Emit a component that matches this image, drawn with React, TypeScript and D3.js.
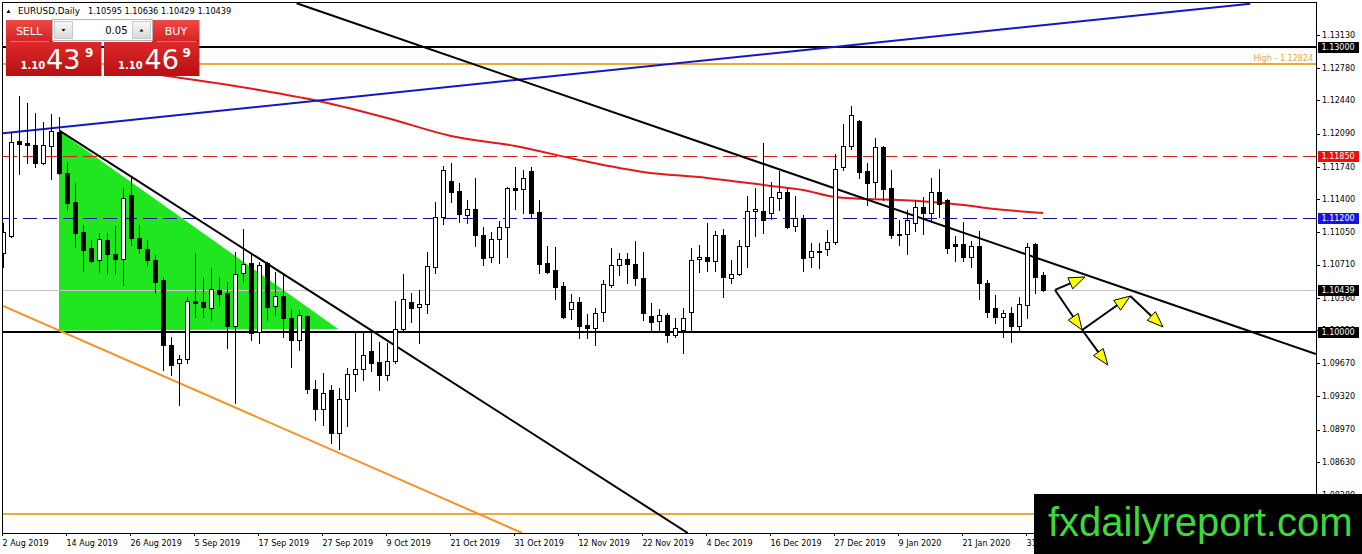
import React from 'react';
import * as d3 from 'd3';

const W = 1362;
const H = 554;

// plot frame (MT4 style chart window)
const plot = { left: 3, top: 2.7, right: 1316, bottom: 533 };

// daily OHLC, 2 Aug 2019 .. 4 Feb 2020
const barOpen = [
  1.10832, 1.11011, 1.12013, 1.11992, 1.1197, 1.11781, 1.1196, 1.12108, 1.11675, 1.1137,
  1.11053, 1.10885, 1.10758, 1.10969, 1.10822, 1.10769, 1.11444, 1.1099, 1.10874, 1.10758,
  1.10547, 1.09862, 1.09672, 1.09714, 1.10326, 1.10315, 1.10252, 1.10442, 1.1041, 1.10062,
  1.10621, 1.10726, 1.09999, 1.10726, 1.10273, 1.10378, 1.10147, 1.09914, 1.10168, 1.09398,
  1.09187, 1.09387, 1.08934, 1.09292, 1.09556, 1.09609, 1.09799, 1.09683, 1.09546, 1.09693,
  1.10031, 1.10315, 1.10263, 1.10294, 1.10684, 1.11211, 1.11591, 1.11485, 1.11232, 1.11296,
  1.11021, 1.1079, 1.10979, 1.11106, 1.11517, 1.11507, 1.11696, 1.11264, 1.10726, 1.10653,
  1.10484, 1.10241, 1.10315, 1.10073, 1.10041, 1.1021, 1.10495, 1.10705, 1.10769, 1.10716,
  1.10568, 1.10168, 1.10115, 1.10178, 1.09967, 1.1002, 1.1021, 1.10769, 1.1079, 1.10747,
  1.11021, 1.10568, 1.1061, 1.10906, 1.11275, 1.11275, 1.11253, 1.11412, 1.11475, 1.11116,
  1.11201, 1.1079, 1.10853, 1.10874, 1.10948, 1.11739, 1.1196, 1.12223, 1.11696, 1.11581,
  1.11949, 1.11517, 1.11032, 1.11032, 1.11148, 1.11317, 1.11253, 1.11475, 1.11391, 1.10927,
  1.10927, 1.1079, 1.10906, 1.10516, 1.10252, 1.10157, 1.10199, 1.10062, 1.10284, 1.10927,
  1.10595,
];
const barHigh = [
  1.11148, 1.12108, 1.12487, 1.12413, 1.12308, 1.12213, 1.12297, 1.12266, 1.11791, 1.1157,
  1.11127, 1.10969, 1.11042, 1.11042, 1.11116, 1.11517, 1.11623, 1.11127, 1.10969, 1.10811,
  1.10568, 1.09946, 1.09756, 1.10368, 1.10832, 1.10568, 1.10674, 1.10579, 1.10526, 1.10842,
  1.11085, 1.10832, 1.10737, 1.10737, 1.10632, 1.106, 1.10241, 1.10231, 1.10178, 1.09493,
  1.09567, 1.0944, 1.09409, 1.09619, 1.09988, 1.09988, 1.09988, 1.09893, 1.09883, 1.10326,
  1.1061, 1.1041, 1.10442, 1.10842, 1.1137, 1.11749, 1.11781, 1.1157, 1.11391, 1.11623,
  1.11106, 1.11053, 1.11169, 1.11528, 1.11739, 1.11707, 1.11739, 1.11391, 1.10906, 1.10895,
  1.10526, 1.104, 1.10368, 1.10189, 1.10252, 1.10547, 1.10885, 1.10832, 1.10832, 1.10958,
  1.10842, 1.10305, 1.10241, 1.10199, 1.10147, 1.10252, 1.10885, 1.10916, 1.11148, 1.11064,
  1.11085, 1.10758, 1.10969, 1.11433, 1.11517, 1.11992, 1.11581, 1.11696, 1.11517, 1.11433,
  1.11232, 1.10937, 1.10937, 1.11074, 1.11876, 1.12192, 1.12382, 1.12234, 1.11781, 1.12044,
  1.1196, 1.11707, 1.1118, 1.11285, 1.11391, 1.11422, 1.11623, 1.11717, 1.11401, 1.11011,
  1.11159, 1.10958, 1.11064, 1.10547, 1.10389, 1.10231, 1.10263, 1.10368, 1.10937, 1.10937,
  1.10636,
];
const barLow = [
  1.10684, 1.11, 1.11665, 1.11781, 1.11739, 1.1177, 1.11612, 1.11665, 1.11285, 1.10895,
  1.10642, 1.10737, 1.10632, 1.10621, 1.10621, 1.10495, 1.10916, 1.10832, 1.10705, 1.1041,
  1.09598, 1.09546, 1.09229, 1.09672, 1.10157, 1.10157, 1.10125, 1.10284, 1.0983, 1.0925,
  1.10526, 1.09914, 1.09883, 1.10125, 1.10178, 1.09946, 1.0963, 1.09809, 1.09356, 1.09071,
  1.09018, 1.08829, 1.08766, 1.09008, 1.09377, 1.09493, 1.09588, 1.09387, 1.09493, 1.09672,
  1.09999, 1.10104, 1.09883, 1.10199, 1.10621, 1.11138, 1.1137, 1.11159, 1.11148, 1.10906,
  1.10705, 1.10737, 1.10726, 1.1079, 1.11296, 1.11254, 1.11211, 1.10621, 1.10621, 1.10347,
  1.10147, 1.10136, 1.09935, 1.09935, 1.09862, 1.10115, 1.10473, 1.106, 1.10516, 1.10495,
  1.10125, 1.10009, 1.1002, 1.09893, 1.09946, 1.09777, 1.09999, 1.10632, 1.10642, 1.10642,
  1.10368, 1.10516, 1.106, 1.10684, 1.11011, 1.11042, 1.1119, 1.11285, 1.11095, 1.11064,
  1.10642, 1.10684, 1.10674, 1.10811, 1.10927, 1.11707, 1.11928, 1.11623, 1.11338, 1.11422,
  1.11391, 1.1099, 1.10916, 1.10822, 1.11064, 1.11032, 1.11159, 1.11211, 1.10832, 1.10747,
  1.10747, 1.10684, 1.10347, 1.10157, 1.10094, 1.09946, 1.09893, 1.1002, 1.10147, 1.1041,
  1.10429,
];
const barClose = [
  1.11053, 1.12002, 1.11981, 1.1197, 1.11781, 1.1197, 1.12118, 1.11675, 1.11359, 1.11042,
  1.10864, 1.10747, 1.10979, 1.10822, 1.10769, 1.11412, 1.1099, 1.10885, 1.10758, 1.10526,
  1.09862, 1.09651, 1.09714, 1.10326, 1.10305, 1.10263, 1.10452, 1.104, 1.10062, 1.1061,
  1.10716, 1.09988, 1.10705, 1.10263, 1.10378, 1.10147, 1.09914, 1.10178, 1.09398, 1.09187,
  1.09356, 1.08934, 1.09292, 1.09556, 1.09609, 1.09756, 1.09672, 1.09546, 1.09693, 1.10031,
  1.10347, 1.10252, 1.10294, 1.10695, 1.11211, 1.11707, 1.11475, 1.11243, 1.11296, 1.11021,
  1.10779, 1.10979, 1.11106, 1.11517, 1.11496, 1.11623, 1.11254, 1.10716, 1.10632, 1.10473,
  1.10157, 1.10315, 1.10062, 1.10041, 1.10199, 1.10505, 1.10705, 1.10769, 1.10716, 1.10568,
  1.10199, 1.10104, 1.10178, 1.09967, 1.10041, 1.10147, 1.10758, 1.1079, 1.10747, 1.11021,
  1.10579, 1.1061, 1.10906, 1.11275, 1.11296, 1.1118, 1.11422, 1.11475, 1.11106, 1.11201,
  1.10779, 1.10853, 1.10842, 1.10948, 1.11717, 1.1196, 1.12287, 1.11686, 1.1157, 1.11949,
  1.11507, 1.11021, 1.11021, 1.1118, 1.11317, 1.11253, 1.11475, 1.11349, 1.10885, 1.10906,
  1.1079, 1.10906, 1.10516, 1.1021, 1.10157, 1.10199, 1.10062, 1.10294, 1.10895, 1.10579,
  1.10439,
];

// time axis: one label every 8 bars
const dateLabels = [
  '2 Aug 2019', '14 Aug 2019', '26 Aug 2019', '5 Sep 2019', '17 Sep 2019', '27 Sep 2019',
  '9 Oct 2019', '21 Oct 2019', '31 Oct 2019', '12 Nov 2019', '22 Nov 2019', '4 Dec 2019',
  '16 Dec 2019', '27 Dec 2019', '9 Jan 2020', '21 Jan 2020', '31 Jan 2020',
];
const priceTicks = [
  1.1313, 1.1278, 1.1244, 1.1209, 1.1174, 1.114, 1.1105, 1.1071, 1.1036, 1.1002,
  1.0967, 1.0932, 1.0897, 1.0863, 1.0828,
];

// moving average (red)
const maBars = [18, 24, 32, 40, 48, 56, 64, 72, 80, 88, 96, 100, 104, 108, 112, 116, 120, 124, 130];
const maValues = [
  1.12729, 1.12656, 1.1255, 1.12424, 1.12255, 1.12065, 1.1196, 1.11812, 1.11686, 1.11623,
  1.11538, 1.11496, 1.11422, 1.11401, 1.11391, 1.1137, 1.11338, 1.11296, 1.11253,
];

// horizontal levels
const level13000 = 1.13;
const periodHigh = 1.12824;
const level11850 = 1.1185;
const level11200 = 1.112;
const level10000 = 1.1;
const lowLevel = 1.08084;

// drawn objects, [bar, price]
const blueTrend = [[0, 1.12093], [155.9, 1.1346]];
const mainDownTrend = [[36.7, 1.13464], [164.1, 1.09767]];
const wedgeTrend = [[7.1, 1.12118], [85.6, 1.0788]];
const orangeTrend = [[0, 1.10273], [64.9, 1.0788]];
const greenTriangle = [[7, 1.12118], [7, 1.10012], [41.9, 1.10031]];

const arrowPts: Record<string, number[]> = {
  a: [131.5, 1.10442],
  b: [135.25, 1.10579],
  c: [134.9, 1.1002],
  d: [140.9, 1.10378],
  e: [145, 1.10052],
  f: [138.1, 1.09651],
};
const arrowSegments = [['a', 'b'], ['a', 'c'], ['c', 'd'], ['d', 'e'], ['c', 'f']];

const font = '"DejaVu Sans", Tahoma, sans-serif';

const x = d3.scaleLinear().domain([0, 130]).range([3, 1043]);
const y = d3.scaleLinear().domain([1.0788, 1.1347]).range([plot.bottom, plot.top]);

const toPx = (p: number[]) => [x(p[0]), y(p[1])] as [number, number];
// pixel snapping for thin / thick horizontal lines
const crisp1 = (p: number) => Math.round(y(p)) + 0.5;
const crisp2 = (p: number) => Math.round(y(p));

function Arrow({ from, to }: { from: number[]; to: number[] }) {
  const [x1, y1] = toPx(from);
  const [x2, y2] = toPx(to);
  const len = Math.hypot(x2 - x1, y2 - y1);
  const ux = (x2 - x1) / len, uy = (y2 - y1) / len;
  const hl = 16, hw = 6;
  const bx = x2 - ux * hl, by = y2 - uy * hl;
  const pts = [
    [x2, y2],
    [bx - uy * hw, by + ux * hw],
    [bx + uy * hw, by - ux * hw],
  ];
  return (
    <g>
      <line x1={x1} y1={y1} x2={bx} y2={by} stroke="#000" strokeWidth={2} />
      <polygon points={pts.map(p => p.join(',')).join(' ')} fill="#ffff00" stroke="#000" strokeWidth={1} />
    </g>
  );
}

function PriceBox({ price, color, text }: { price: number; color: string; text: string }) {
  const yy = Math.round(y(price));
  return (
    <g>
      <rect x={1318} y={yy - 5} width={41} height={11} fill={color} />
      <text x={1321.5} y={yy + 0.5} dy="0.35em" fontSize={8} fill="#fff" fontFamily={font}>{text}</text>
    </g>
  );
}

function TradePanel() {
  const last = barClose.length - 1;
  return (
    <g fontFamily={font}>
      <defs>
        <linearGradient id="btnRed" x1="0" y1="0" x2="0" y2="1">
          <stop offset="0%" stopColor="#ec4a48" />
          <stop offset="100%" stopColor="#d42222" />
        </linearGradient>
        <linearGradient id="priceRed" x1="0" y1="0" x2="0" y2="1">
          <stop offset="0%" stopColor="#dc2a2a" />
          <stop offset="100%" stopColor="#b80f12" />
        </linearGradient>
        <linearGradient id="spinGrey" x1="0" y1="0" x2="0" y2="1">
          <stop offset="0%" stopColor="#f8f8f8" />
          <stop offset="100%" stopColor="#d8d8d8" />
        </linearGradient>
      </defs>
      {/* header line */}
      <path d="M6.5,13 L8.5,9.5 L10.5,13 Z" fill="#000" />
      <text x={18} y={14} fontSize={8.8} fill="#000">EURUSD,Daily</text>
      <text x={88} y={14} fontSize={8.2} fill="#000">
        {[barOpen[last], barHigh[last], barLow[last], barClose[last]].map(v => v.toFixed(5)).join(' ')}
      </text>

      {/* sell / buy buttons */}
      <rect x={6} y={20} width={47} height={22} fill="url(#btnRed)" />
      <rect x={152} y={20} width={47.5} height={22} fill="url(#btnRed)" />
      <line x1={10} x2={49} y1={41.5} y2={41.5} stroke="#f08080" strokeWidth={0.8} />
      <line x1={157} x2={196} y1={41.5} y2={41.5} stroke="#f08080" strokeWidth={0.8} />
      <text x={29} y={35} fontSize={11} fill="#fff" textAnchor="middle">SELL</text>
      <text x={176} y={35} fontSize={11} fill="#fff" textAnchor="middle">BUY</text>

      {/* lot size spinner */}
      <rect x={52.5} y={19.5} width={100} height={21} fill="#fff" stroke="#b4b4b4" />
      <rect x={54.5} y={21.5} width={18} height={17} fill="url(#spinGrey)" stroke="#c8c8c8" />
      <rect x={132.5} y={21.5} width={18} height={17} fill="url(#spinGrey)" stroke="#c8c8c8" />
      <path d="M61.5,29 L65.5,29 L63.5,31.5 Z" fill="#000" />
      <path d="M139.5,31.5 L143.5,31.5 L141.5,29 Z" fill="#000" />
      <text x={127.5} y={34} fontSize={10} fill="#000" textAnchor="end">0.05</text>

      {/* prices */}
      <rect x={6} y={42} width={95.5} height={34} fill="url(#priceRed)" />
      <rect x={104} y={42} width={95.5} height={34} fill="url(#priceRed)" />
      <text x={20.5} y={69} fontSize={10} fontWeight="bold" fill="#fff">1.10</text>
      <text x={46} y={69} fontSize={27} fill="#fff">43</text>
      <text x={85} y={56.5} fontSize={12} fontWeight="bold" fill="#fff">9</text>
      <text x={118} y={69} fontSize={10} fontWeight="bold" fill="#fff">1.10</text>
      <text x={144.5} y={69} fontSize={27} fill="#fff">46</text>
      <text x={182.5} y={56.5} fontSize={12} fontWeight="bold" fill="#fff">9</text>
    </g>
  );
}

export default function App() {
  const line = d3.line<number[]>().x(d => x(d[0])).y(d => y(d[1]));
  const maLine = d3
    .line<number>()
    .x((_, i) => x(maBars[i]))
    .y(d => y(d))
    .curve(d3.curveMonotoneX);
  const lastClose = barClose[barClose.length - 1];

  return (
    <svg
      width={W}
      height={H}
      style={{ position: 'absolute', left: 0, top: 0, background: '#fff', display: 'block' }}
    >
      <defs>
        <clipPath id="plotClip">
          <rect x={plot.left} y={plot.top} width={plot.right - plot.left} height={plot.bottom - plot.top} />
        </clipPath>
      </defs>
      <rect width={W} height={H} fill="#fff" />

      <g clipPath="url(#plotClip)">
        <polygon points={greenTriangle.map(p => toPx(p).join(',')).join(' ')} fill="#1fe61f" />

        {/* levels */}
        <line x1={plot.left} x2={plot.right} y1={crisp1(lastClose)} y2={crisp1(lastClose)} stroke="#c4c4c4" strokeWidth={1} />
        <line x1={plot.left} x2={plot.right} y1={crisp1(level11850)} y2={crisp1(level11850)} stroke="#d01c1c" strokeWidth={1} strokeDasharray="14,6" />
        <line x1={plot.left} x2={plot.right} y1={crisp1(level11200)} y2={crisp1(level11200)} stroke="#101098" strokeWidth={1} strokeDasharray="14,6" />
        <line x1={plot.left} x2={plot.right} y1={crisp2(level13000)} y2={crisp2(level13000)} stroke="#000" strokeWidth={2} />
        <line x1={plot.left} x2={plot.right} y1={crisp2(periodHigh)} y2={crisp2(periodHigh)} stroke="#eaa93c" strokeWidth={2} />
        <line x1={plot.left} x2={plot.right} y1={crisp2(lowLevel)} y2={crisp2(lowLevel)} stroke="#eaa93c" strokeWidth={2} />
        <line x1={plot.left} x2={plot.right} y1={crisp2(level10000)} y2={crisp2(level10000)} stroke="#000" strokeWidth={2} />
        <text x={plot.right - 3} y={y(periodHigh) - 3} fontSize={8} fill="#eaa93c" textAnchor="end" fontFamily={font}>
          {`High - ${periodHigh.toFixed(5)}`}
        </text>

        {/* moving average */}
        <path d={maLine(maValues) || ''} fill="none" stroke="#e01a1a" strokeWidth={2} />

        {/* trend lines */}
        <path d={line(blueTrend) || ''} stroke="#1616c4" strokeWidth={2} fill="none" />
        <path d={line(orangeTrend) || ''} stroke="#f39325" strokeWidth={2} fill="none" />
        <path d={line(wedgeTrend) || ''} stroke="#000" strokeWidth={2} fill="none" />
        <path d={line(mainDownTrend) || ''} stroke="#000" strokeWidth={2} fill="none" />

        {/* candles */}
        {barOpen.map((o, i) => {
          const c = barClose[i];
          const cx = Math.round(x(i)) + 0.5;
          const top = Math.round(y(Math.max(o, c))) + 0.5;
          const bot = Math.round(y(Math.min(o, c))) + 0.5;
          return (
            <g key={i}>
              <line x1={cx} x2={cx} y1={Math.round(y(barHigh[i]))} y2={Math.round(y(barLow[i])) + 1} stroke="#000" strokeWidth={1} />
              <rect
                x={cx - 2}
                y={top}
                width={4}
                height={Math.max(1, bot - top)}
                fill={c > o ? '#fff' : '#000'}
                stroke="#000"
                strokeWidth={1}
              />
            </g>
          );
        })}

        {/* scenario arrows */}
        {arrowSegments.map(([a, b], i) => (
          <Arrow key={i} from={arrowPts[a]} to={arrowPts[b]} />
        ))}
      </g>

      {/* frame */}
      <rect x={2.5} y={2.5} width={plot.right - 2.5 + 0.5} height={plot.bottom - 2.5 + 0.5} fill="none" stroke="#000" strokeWidth={1} />

      {/* price axis */}
      <g fontFamily={font} fontSize={8} fill="#000">
        {priceTicks.map(p => (
          <g key={p}>
            <line x1={plot.right} x2={plot.right + 4} y1={crisp1(p)} y2={crisp1(p)} stroke="#000" />
            <text x={1322} y={y(p)} dy="0.35em">{p.toFixed(5)}</text>
          </g>
        ))}
      </g>
      <PriceBox price={level13000} color="#000" text={level13000.toFixed(5)} />
      <PriceBox price={level11850} color="#f40c0c" text={level11850.toFixed(5)} />
      <PriceBox price={level11200} color="#1414ee" text={level11200.toFixed(5)} />
      <PriceBox price={lastClose} color="#000" text={lastClose.toFixed(5)} />
      <PriceBox price={level10000} color="#000" text={level10000.toFixed(5)} />

      {/* time axis */}
      <g fontFamily={font} fontSize={8} fill="#000">
        {dateLabels.map((d, k) => {
          const tx = Math.round(x(k * 8)) - 0.5;
          return (
            <g key={d}>
              <line x1={tx} x2={tx} y1={plot.bottom} y2={plot.bottom + 3} stroke="#000" />
              <text x={tx} y={545.5}>{d}</text>
            </g>
          );
        })}
      </g>

      <TradePanel />

      {/* watermark */}
      <rect x={1034} y={494} width={W - 1034} height={H - 494} fill="#000" />
      <text x={1048} y={536} fontSize={40} fill="#3fd83a" fontFamily='"Liberation Sans", Arial, sans-serif'>
        fxdailyreport.com
      </text>
    </svg>
  );
}
